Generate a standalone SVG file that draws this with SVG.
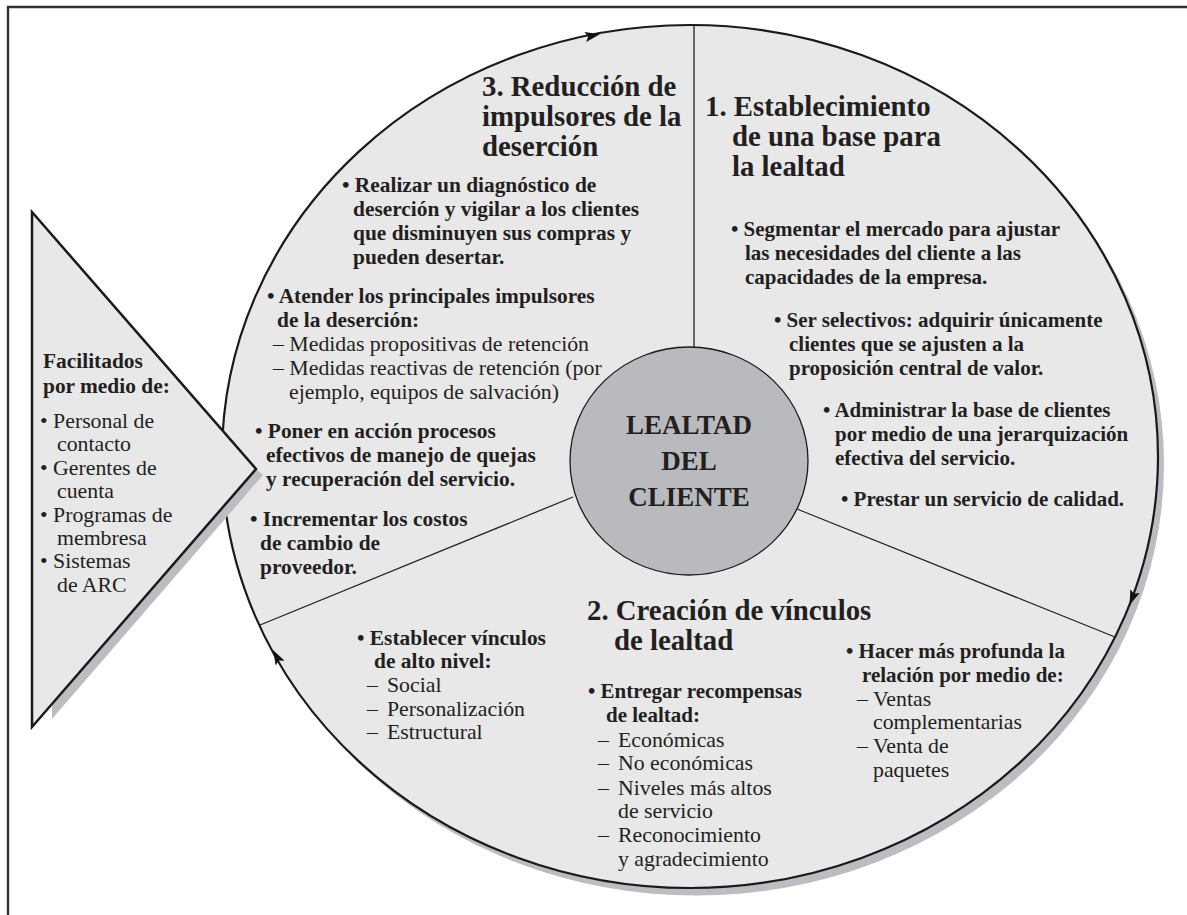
<svg xmlns="http://www.w3.org/2000/svg" width="1187" height="915" viewBox="0 0 1187 915">
<style>
text{font-family:"Liberation Serif","Times New Roman",serif;fill:#231f20}
.t{font-size:28.8px;font-weight:bold}
.b{font-size:21.4px;font-weight:bold}
.b1{font-size:21px;font-weight:bold}
.r{font-size:21.8px}
.c{font-size:27px;font-weight:bold;text-anchor:middle}
.div{stroke:#222;stroke-width:1.3;fill:none}
.ah{fill:#111}
</style>
<defs>
<polygon id="head" points="0,0 -15,-5 -12,0 -15,5"/>
</defs>
<rect x="0" y="0" width="1187" height="915" fill="#fff"/>
<path d="M8,915 V7 H1187" fill="none" stroke="#333" stroke-width="2.4"/>
<g id="wheel">
<ellipse cx="696" cy="464" rx="468" ry="431.5" fill="#bcbdc0"/>
<ellipse cx="690" cy="456.5" rx="468" ry="431.5" fill="#e8e8e8" stroke="#1a1a1a" stroke-width="2.2"/>
</g>
<g id="connectors">
<line class="div" x1="694" y1="25" x2="694" y2="347"/>
<line class="div" x1="573" y1="497" x2="260" y2="625"/>
<line class="div" x1="797" y1="509" x2="1115" y2="637"/>
<use href="#head" class="ah" transform="translate(600,34.3) rotate(-10.4)"/>
<use href="#head" class="ah" transform="translate(1129.5,605) rotate(111.6)"/>
<use href="#head" class="ah" transform="translate(273,650) rotate(241.5)"/>
</g>
<g id="facilitators">
<polygon points="256,469 263,475 52,719 52,704" fill="#bcbdc0"/>
<polygon points="32,212 256,469 32,727" fill="#e8e8e8" stroke="#1a1a1a" stroke-width="2.5" stroke-linejoin="miter"/>
<text class="b" x="43" y="368">Facilitados</text>
<text class="b" x="43" y="393">por medio de:</text>
<text class="r" x="40" y="428">• Personal de</text>
<text class="r" x="57" y="451">contacto</text>
<text class="r" x="40" y="475">• Gerentes de</text>
<text class="r" x="57" y="498">cuenta</text>
<text class="r" x="40" y="522">• Programas de</text>
<text class="r" x="57" y="545">membresa</text>
<text class="r" x="40" y="568">• Sistemas</text>
<text class="r" x="57" y="592">de ARC</text>
</g>
<g id="center">
<ellipse cx="689" cy="461" rx="119" ry="114" fill="#b9babd" stroke="#1a1a1a" stroke-width="1.3"/>
<text class="c" x="689" y="434">LEALTAD</text>
<text class="c" x="689" y="470">DEL</text>
<text class="c" x="689" y="506">CLIENTE</text>
</g>
<g id="section3">
<text class="t" x="482" y="96">3. Reducción de</text>
<text class="t" x="482" y="126">impulsores de la</text>
<text class="t" x="482" y="156">deserción</text>
<text class="b" x="342" y="192">• Realizar un diagnóstico de</text>
<text class="b" x="353" y="216">deserción y vigilar a los clientes</text>
<text class="b" x="353" y="240">que disminuyen sus compras y</text>
<text class="b" x="353" y="264">pueden desertar.</text>
<text class="b" x="267" y="303">• Atender los principales impulsores</text>
<text class="b" x="277" y="327">de la deserción:</text>
<text class="r" x="273" y="351">– Medidas propositivas de retención</text>
<text class="r" x="273" y="375">– Medidas reactivas de retención (por</text>
<text class="r" x="289" y="399">ejemplo, equipos de salvación)</text>
<text class="b" x="255" y="438">• Poner en acción procesos</text>
<text class="b" x="266" y="462">efectivos de manejo de quejas</text>
<text class="b" x="266" y="486">y recuperación del servicio.</text>
<text class="b" x="250" y="526">• Incrementar los costos</text>
<text class="b" x="260" y="550">de cambio de</text>
<text class="b" x="260" y="574">proveedor.</text>
</g>
<g id="section1">
<text class="t" x="705" y="116">1. Establecimiento</text>
<text class="t" x="732" y="146">de una base para</text>
<text class="t" x="732" y="176">la lealtad</text>
<text class="b1" x="731" y="236">• Segmentar el mercado para ajustar</text>
<text class="b1" x="745" y="260">las necesidades del cliente a las</text>
<text class="b1" x="745" y="284">capacidades de la empresa.</text>
<text class="b1" x="774" y="327">• Ser selectivos: adquirir únicamente</text>
<text class="b1" x="789" y="351">clientes que se ajusten a la</text>
<text class="b1" x="789" y="375">proposición central de valor.</text>
<text class="b1" x="823" y="417">• Administrar la base de clientes</text>
<text class="b1" x="835" y="441">por medio de una jerarquización</text>
<text class="b1" x="835" y="465">efectiva del servicio.</text>
<text class="b1" x="841" y="506">• Prestar un servicio de calidad.</text>
</g>
<g id="section2">
<text class="t" x="587" y="620">2. Creación de vínculos</text>
<text class="t" x="614" y="650">de lealtad</text>
<text class="b" x="357" y="645">• Establecer vínculos</text>
<text class="b" x="374" y="668">de alto nivel:</text>
<text class="r" y="692"><tspan x="367">–</tspan><tspan x="387">Social</tspan></text>
<text class="r" y="716"><tspan x="367">–</tspan><tspan x="387">Personalización</tspan></text>
<text class="r" y="739"><tspan x="367">–</tspan><tspan x="387">Estructural</tspan></text>
<text class="b1" x="588" y="698">• Entregar recompensas</text>
<text class="b1" x="606" y="722">de lealtad:</text>
<text class="r" y="747"><tspan x="598">–</tspan><tspan x="618">Económicas</tspan></text>
<text class="r" y="770"><tspan x="598">–</tspan><tspan x="618">No económicas</tspan></text>
<text class="r" y="795"><tspan x="598">–</tspan><tspan x="618">Niveles más altos</tspan></text>
<text class="r" x="618" y="818">de servicio</text>
<text class="r" y="842"><tspan x="598">–</tspan><tspan x="618">Reconocimiento</tspan></text>
<text class="r" x="618" y="866">y agradecimiento</text>
<text class="b1" x="846" y="658">• Hacer más profunda la</text>
<text class="b1" x="862" y="682">relación por medio de:</text>
<text class="r" y="706"><tspan x="857">–</tspan><tspan x="873">Ventas</tspan></text>
<text class="r" x="873" y="729">complementarias</text>
<text class="r" y="753"><tspan x="857">–</tspan><tspan x="873">Venta de</tspan></text>
<text class="r" x="873" y="777">paquetes</text>
</g>
</svg>
